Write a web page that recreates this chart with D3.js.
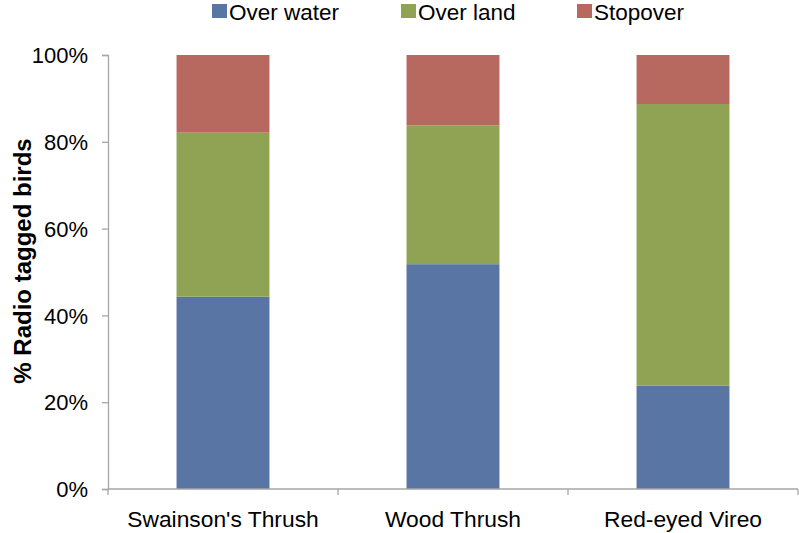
<!DOCTYPE html>
<html>
<head>
<meta charset="utf-8">
<script src="https://cdn.jsdelivr.net/npm/d3@7"></script>
<style>
  body { margin: 0; background: #fff; }
  text { font-family: "Liberation Sans", Arial, sans-serif; fill: #000; }
</style>
</head>
<body>
<div></div>
<script>
// data
var species = ["Swainson's Thrush", "Wood Thrush", "Red-eyed Vireo"];
var overWater = [44.3, 51.8, 23.8];
var overLand = [37.8, 32.0, 64.9];
var stopover = [17.9, 16.2, 11.3];
var seriesNames = ["Over water", "Over land", "Stopover"];
var seriesColors = ["#5975a4", "#90a254", "#b8695f"];
var yTicks = [0, 20, 40, 60, 80, 100];

var margin = {top: 55, right: 1, bottom: 44, left: 108},
    width = 799 - margin.left - margin.right,
    height = 533 - margin.top - margin.bottom;

var svg = d3.select("body").select("div").append("svg")
    .attr("width", 799)
    .attr("height", 533);

var g = svg.append("g")
    .attr("transform", "translate(" + margin.left + "," + margin.top + ")");

var x = d3.scaleBand().domain(species).range([0, width]).paddingInner(0.596).paddingOuter(0.298);
var y = d3.scaleLinear().domain([0, 100]).range([height, 0]);

var rows = species.map(function(s, i) {
    return {name: s, "Over water": overWater[i], "Over land": overLand[i], "Stopover": stopover[i]};
});
var stacked = d3.stack().keys(seriesNames)(rows);

// bars
g.selectAll("g.layer")
    .data(stacked)
    .enter().append("g")
    .attr("class", "layer")
    .style("fill", function(d, i) { return seriesColors[i]; })
    .selectAll("rect")
    .data(function(d) { return d; })
    .enter().append("rect")
    .attr("x", function(d) { return x(d.data.name); })
    .attr("width", x.bandwidth())
    .attr("y", function(d) { return y(d[1]); })
    .attr("height", function(d) { return y(d[0]) - y(d[1]); });

// y axis
var yAxis = g.append("g")
    .call(d3.axisLeft(y).tickValues(yTicks).tickFormat(function(d) { return d + "%"; }).tickSize(6).tickPadding(14));
yAxis.select(".domain").attr("stroke", "#a6a6a6").attr("stroke-width", 1.3);
yAxis.selectAll(".tick line").attr("stroke", "#a6a6a6").attr("stroke-width", 1.3);
yAxis.selectAll(".tick text").style("font-size", "22px").attr("dy", "0.35em");

// x axis: ticks at category boundaries
var xAxis = g.append("g")
    .attr("transform", "translate(0," + height + ")");
xAxis.append("line")
    .attr("x1", 0).attr("x2", width)
    .attr("stroke", "#a6a6a6").attr("stroke-width", 1.3);
var bounds = [0].concat(species.map(function(s) { return x(s) + x.bandwidth() / 2 + x.step() / 2; }));
xAxis.selectAll("line.tk")
    .data(bounds)
    .enter().append("line")
    .attr("class", "tk")
    .attr("x1", function(d) { return d; }).attr("x2", function(d) { return d; })
    .attr("y1", 0).attr("y2", 6)
    .attr("stroke", "#a6a6a6").attr("stroke-width", 1.3);
xAxis.selectAll("text")
    .data(species)
    .enter().append("text")
    .attr("x", function(d) { return x(d) + x.bandwidth() / 2; })
    .attr("y", 38)
    .style("text-anchor", "middle")
    .style("font-size", "22.8px")
    .text(function(d) { return d; });

// y title
svg.append("text")
    .attr("transform", "translate(31,261) rotate(-90)")
    .style("text-anchor", "middle")
    .style("font-size", "24px")
    .style("font-weight", 700)
    .text("% Radio tagged birds");

// legend
var legendX = [212, 401, 577];
var legend = svg.append("g").attr("class", "legend");
legend.selectAll("rect")
    .data(seriesNames)
    .enter().append("rect")
    .attr("x", function(d, i) { return legendX[i]; })
    .attr("y", 4)
    .attr("width", 15)
    .attr("height", 14)
    .style("fill", function(d, i) { return seriesColors[i]; });
legend.selectAll("text")
    .data(seriesNames)
    .enter().append("text")
    .attr("x", function(d, i) { return legendX[i] + 17; })
    .attr("y", 20)
    .style("font-size", "22.5px")
    .text(function(d) { return d; });
</script>
</body>
</html>
